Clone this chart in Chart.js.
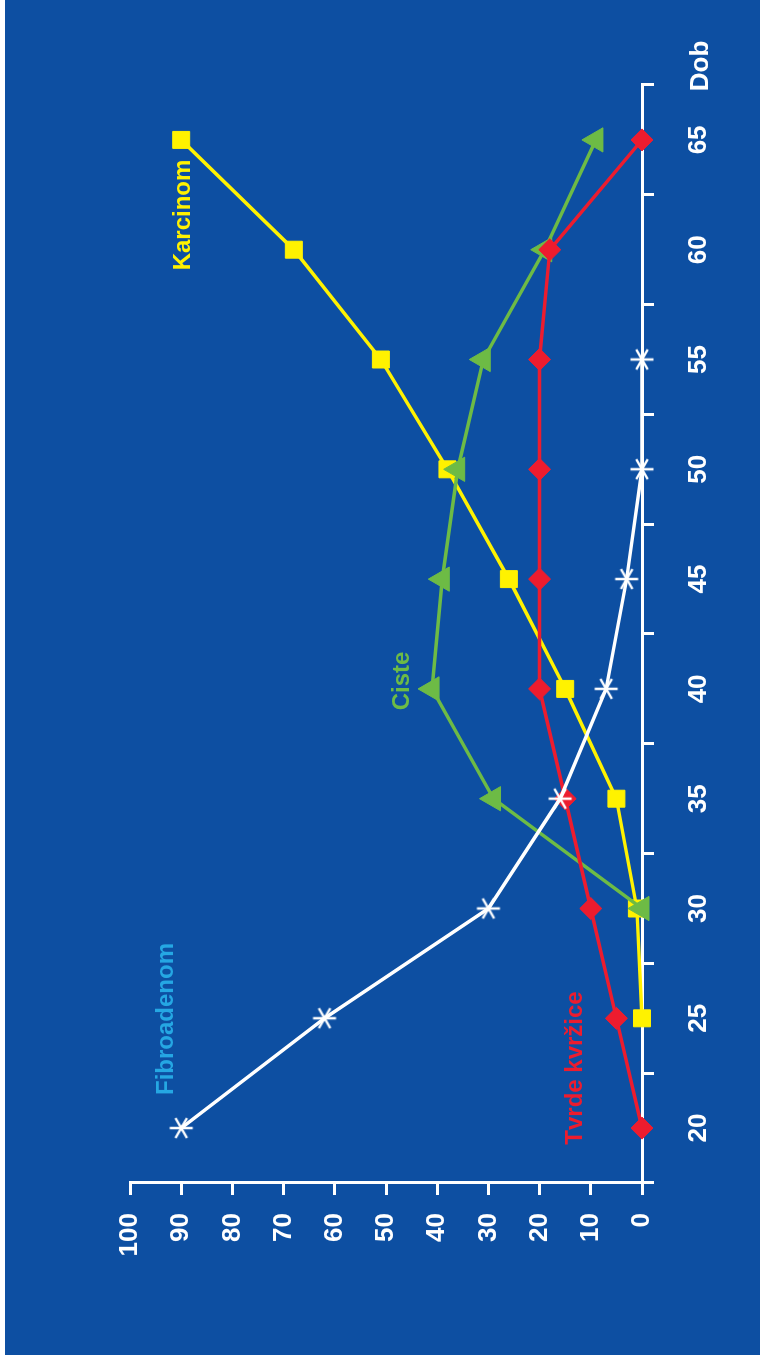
<!DOCTYPE html>
<html lang="hr">
<head>
<meta charset="UTF-8">
<title>Dob</title>
<script src="https://cdn.jsdelivr.net/npm/chart.js"></script>
<style>
  html, body { margin: 0; padding: 0; background: #fff; }
  body { width: 760px; height: 1362px; position: relative; overflow: hidden; }
  #panel { position: absolute; left: 5px; top: 0; width: 755px; height: 1355px; background: #0d4fa2; }
  /* the chart is drawn lying down and turned a quarter to the left */
  #turn { position: absolute; left: 0; top: 1355px; width: 1355px; height: 755px;
          transform-origin: 0 0; transform: rotate(-90deg); }
</style>
</head>
<body>
<div id="panel">
  <div id="turn"><canvas id="chart" width="1355" height="755"></canvas></div>
</div>
<script>
// data
const ages = ["20", "25", "30", "35", "40", "45", "50", "55", "60", "65"];
const fibroadenom = [90, 62, 30, 16, 7, 3, 0, 0, null, null];
const tvrdeKvrzice = [0, 5, 10, 15, 20, 20, 20, 20, 18, 0];
const ciste = [null, null, 0, 29, 41, 39, 36, 31, 19, 9];
const karcinom = [null, 0, 1, 5, 15, 26, 38, 51, 68, 90];
const valueTicks = [0, 10, 20, 30, 40, 50, 60, 70, 80, 90, 100];

const WHITE = "#ffffff";
const RED = "#ed1c2e";
const GREEN = "#6dbb45";
const YELLOW = "#fff200";
const CYAN = "#25a7e3";
const FONT = '"Liberation Sans", Arial, sans-serif';

// six-armed star marker
function asterisk(r, w, color) {
  const c = document.createElement("canvas");
  const s = Math.ceil(2 * r + w + 2);
  c.width = c.height = s;
  const g = c.getContext("2d");
  g.strokeStyle = color;
  g.lineWidth = w;
  g.translate(s / 2, s / 2);
  [90, 30, -30].forEach(a => {
    const t = a * Math.PI / 180;
    g.beginPath();
    g.moveTo(-r * Math.cos(t), -r * Math.sin(t));
    g.lineTo(r * Math.cos(t), r * Math.sin(t));
    g.stroke();
  });
  return c;
}

// text labels (canvas pixels, before turning)
const notes = [
  { text: "Fibroadenom", color: CYAN, x: 336, y: 168 },
  { text: "Tvrde kvržice", color: RED, x: 287, y: 577 },
  { text: "Ciste", color: GREEN, x: 674, y: 404 },
  { text: "Karcinom", color: YELLOW, x: 1140, y: 185 },
];

const notePlugin = {
  id: "notes",
  afterDraw(chart) {
    const ctx = chart.ctx;
    ctx.save();
    ctx.textAlign = "center";
    ctx.textBaseline = "alphabetic";
    ctx.font = "bold 24px " + FONT;
    notes.forEach(n => {
      ctx.fillStyle = n.color;
      ctx.fillText(n.text, n.x, n.y);
    });
    // axis title at the end of the age axis
    ctx.font = "bold 26px " + FONT;
    ctx.fillStyle = WHITE;
    ctx.fillText("Dob", chart.scales.x.right + 19, 703);
    ctx.restore();
  }
};

const axisGrid = { drawOnChartArea: false, tickLength: 12, color: WHITE, lineWidth: 3 };
const tickFont = { family: FONT, size: 26, weight: "bold" };

new Chart(document.getElementById("chart"), {
  type: "line",
  data: {
    labels: ages,
    datasets: [
      {
        label: "Fibroadenom", data: fibroadenom, order: 0, clip: false,
        borderColor: WHITE, borderWidth: 3.5,
        pointStyle: asterisk(11.5, 2.5, WHITE), pointRadius: 12
      },
      {
        label: "Tvrde kvržice", data: tvrdeKvrzice, order: 1, clip: false,
        borderColor: RED, borderWidth: 3.5,
        pointStyle: "rectRot", pointRadius: 11,
        pointBackgroundColor: RED, pointBorderColor: RED, pointBorderWidth: 1
      },
      {
        label: "Ciste", data: ciste, order: 2, clip: false,
        borderColor: GREEN, borderWidth: 3.5,
        pointStyle: "triangle", pointRadius: 14,
        pointBackgroundColor: GREEN, pointBorderColor: GREEN, pointBorderWidth: 1
      },
      {
        label: "Karcinom", data: karcinom, order: 3, clip: false,
        borderColor: YELLOW, borderWidth: 3.5,
        pointStyle: "rect", pointRadius: 12,
        pointBackgroundColor: YELLOW, pointBorderColor: YELLOW, pointBorderWidth: 1
      }
    ]
  },
  options: {
    responsive: false,
    animation: false,
    devicePixelRatio: 1,
    spanGaps: false,
    layout: { padding: { top: 125, right: 85, left: 0, bottom: 0 } },
    plugins: { legend: { display: false }, tooltip: { enabled: false } },
    scales: {
      x: {
        type: "category",
        offset: true,
        grid: Object.assign({ offset: true }, axisGrid),
        border: { color: WHITE, width: 3 },
        ticks: { color: WHITE, font: tickFont, padding: 29, maxRotation: 0, autoSkip: false },
        afterFit: s => { s.height = 118; }
      },
      y: {
        min: 0,
        max: 100,
        afterBuildTicks: s => { s.ticks = valueTicks.map(v => ({ value: v })); },
        grid: axisGrid,
        border: { color: WHITE, width: 3 },
        ticks: { color: WHITE, font: tickFont, padding: 18 },
        afterFit: s => { s.width = 172; }
      }
    }
  },
  plugins: [notePlugin]
});
</script>
</body>
</html>
